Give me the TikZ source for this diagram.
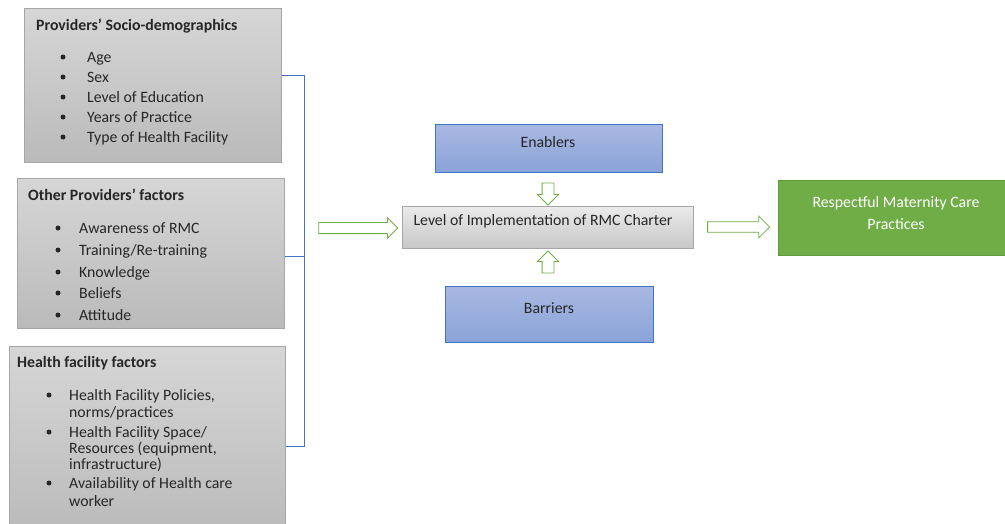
\documentclass[tikz,border=0pt]{standalone}
\usepackage{fontspec}
\setmainfont{Carlito}
\usetikzlibrary{shapes.arrows}
\definecolor{linkblue}{HTML}{4472C4}
\definecolor{arrgreen}{HTML}{70AD47}
\definecolor{boxgray}{HTML}{A6A6A6}
\definecolor{bluetop}{HTML}{A9B8E2}
\definecolor{bluebot}{HTML}{8AA3D8}
\definecolor{greenedge}{HTML}{5F9A3B}
\tikzset{
  graybox/.style={draw=boxgray, line width=0.8pt, top color=black!16, bottom color=black!27, anchor=north west, inner sep=0},
  midbox/.style={draw=boxgray, line width=0.8pt, top color=black!8, bottom color=black!22, anchor=north west, inner sep=0},
  bluebox/.style={draw=linkblue, line width=0.8pt, top color=bluetop, bottom color=bluebot, anchor=north west, inner sep=0},
  greenbox/.style={draw=greenedge, line width=0.8pt, fill=arrgreen, anchor=north west, inner sep=0},
  txt/.style={font=\fontsize{15.8}{19}\selectfont, inner sep=0, anchor=mid west, text=black!85, yshift=-3pt},
  head/.style={txt, font=\fontsize{15.8}{19}\selectfont\bfseries},
  ctxt/.style={font=\fontsize{15.8}{19}\selectfont, inner sep=0, anchor=mid, text=black!85, yshift=-3pt},
  bracket/.style={draw=linkblue, line width=0.8pt},
  hollow/.style={single arrow, draw=arrgreen, fill=white, line width=0.8pt, inner xsep=0, single arrow tip angle=90},
}
\begin{document}
\begin{tikzpicture}[x=1pt,y=-1pt]
\useasboundingbox (0,0) rectangle (1005,523);
\fill[white] (0,0) rectangle (1005,523);

% left boxes
\node[graybox, minimum width=257, minimum height=154] (b1) at (24,8) {};
\node[graybox, minimum width=267, minimum height=150] (b2) at (17,178) {};
\node[graybox, minimum width=276, minimum height=190] (b3) at (9,346) {};

% bracket
\draw[bracket] (b1.east |- 0,75) -- (304,75) coordinate (bt) -- (304,446) coordinate (bb) -- (b3.east |- 0,446);
\draw[bracket] (b2.east |- 0,256) -- (bt |- 0,256);

% box 1 text
\node[head] (h1) at (36,25) {Providers’ Socio-demographics};
\foreach \y/\t [count=\i] in {57/Age, 77/Sex, 97/Level of Education, 117/Years of Practice, 137/Type of Health Facility}{
  \fill[black!85] (63,\y) circle (2.5);
  \node[txt] (a\i) at (87,\y) {\t};
}
% box 2 text
\node[head] (h2) at (28,195) {Other Providers’ factors};
\foreach \y/\t [count=\i] in {228/Awareness of RMC, 250/{Training/Re-training}, 272/Knowledge, 293/Beliefs, 315/Attitude}{
  \fill[black!85] (58,\y) circle (2.5);
  \node[txt] (o\i) at (79,\y) {\t};
}
% box 3 text
\node[head] (h3) at (17,362) {Health facility factors};
\foreach \y in {395,432,483}{\fill[black!85] (49,\y) circle (2.5);}
\node[txt] (f1) at (69,395) {Health Facility Policies,};
\node[txt] (f2) at (69,412) {norms/practices};
\node[txt] (f3) at (69,432) {Health Facility Space/};
\node[txt] (f4) at (69,448) {Resources (equipment,};
\node[txt] (f5) at (69,464) {infrastructure)};
\node[txt] (f6) at (69,483) {Availability of Health care};
\node[txt] (f7) at (69,501) {worker};

% middle boxes
\node[bluebox, minimum width=227, minimum height=48] (en) at (435,124) {};
\node[ctxt] (ent) at (548,142) {Enablers};
\node[midbox, minimum width=291, minimum height=42] (impl) at (402,206) {};
\node[ctxt] (implt) at (543,220) {Level of Implementation of RMC Charter};
\node[bluebox, minimum width=208, minimum height=56] (ba) at (445,286) {};
\node[ctxt] (bat) at (549,308) {Barriers};

% right box
\node[greenbox, minimum width=240, minimum height=75] (rmc) at (778,180) {};
\node[inner sep=0, text=white, align=center, anchor=center, font=\fontsize{15.8}{22}\selectfont] (rmct) at (896,213) {Respectful Maternity Care\\Practices};

% hollow arrows
\node[hollow, inner ysep=5.2, minimum height=79, minimum width=20, single arrow head extend=4.8] (a1) at (355.5,228) {};
\node[hollow, inner ysep=4.8, minimum height=62, minimum width=21, single arrow head extend=5.7] (a2) at (736,227) {};
\node[hollow, inner ysep=5.5, minimum height=22, minimum width=20, single arrow head extend=4.5, rotate=270] (a3) at (548,191) {};
\node[hollow, inner ysep=5.5, minimum height=22, minimum width=20, single arrow head extend=4.5, rotate=90] (a4) at (548,265) {};
\end{tikzpicture}
\end{document}
